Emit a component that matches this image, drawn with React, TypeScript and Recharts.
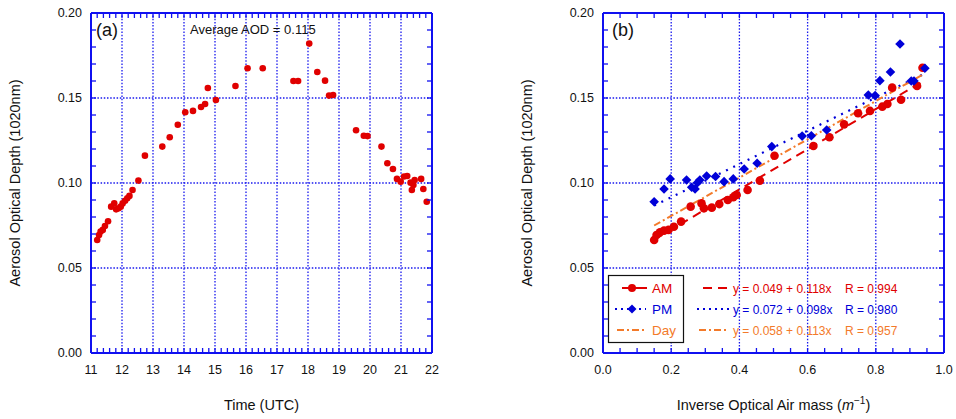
import React from "react";
import {
  ComposedChart,
  Scatter,
  Line,
  XAxis,
  YAxis,
  ReferenceLine,
  Legend,
} from "recharts";

// panel (a): AOD vs time of day
const timeUtc = [
  11.2, 11.26, 11.31, 11.38, 11.45, 11.55, 11.65, 11.75, 11.81, 11.89, 11.96,
  12.02, 12.1, 12.17, 12.24, 12.34, 12.53, 12.74, 13.3, 13.54, 13.8, 14.04,
  14.29, 14.55, 14.68, 14.77, 15.03, 15.66, 16.05, 16.54, 17.53, 17.68, 18.04,
  18.3, 18.55, 18.68, 18.81, 19.55, 19.8, 19.92, 20.37, 20.56, 20.74, 20.87,
  20.99, 21.1, 21.2, 21.31, 21.35, 21.4, 21.44, 21.65, 21.72, 21.83,
];
const aodTime = [
  0.0665, 0.0694, 0.0714, 0.0724, 0.0747, 0.0775, 0.0861, 0.088, 0.0845,
  0.0851, 0.0861, 0.088, 0.0896, 0.091, 0.0924, 0.0959, 0.1014, 0.1161, 0.1214,
  0.1269, 0.1343, 0.1416, 0.1424, 0.1447, 0.1465, 0.1559, 0.1488, 0.1571,
  0.1675, 0.1675, 0.16, 0.16, 0.182, 0.1653, 0.1602, 0.1514, 0.1518, 0.131,
  0.1278, 0.1276, 0.1214, 0.1116, 0.1082, 0.1024, 0.1008, 0.1038, 0.1041,
  0.1002, 0.0959, 0.0988, 0.1018, 0.1024, 0.0965, 0.089,
];

// panel (b): AOD vs inverse air mass
const amMass = [
  0.15, 0.157, 0.167, 0.179, 0.192, 0.208, 0.229, 0.257, 0.289, 0.296, 0.319,
  0.341, 0.366, 0.382, 0.392, 0.424, 0.46, 0.503, 0.617, 0.664, 0.707, 0.748,
  0.783, 0.819, 0.834, 0.848, 0.874, 0.921, 0.937,
];
const amAod = [
  0.0665, 0.0694, 0.071, 0.072, 0.0724, 0.0743, 0.0773, 0.0861, 0.088, 0.0851,
  0.0855, 0.0876, 0.09, 0.0916, 0.0929, 0.0959, 0.1014, 0.116, 0.1218, 0.1269,
  0.1345, 0.141, 0.1424, 0.1449, 0.1465, 0.1561, 0.149, 0.1571, 0.1678,
];
const pmMass = [
  0.15, 0.179, 0.197, 0.245, 0.26, 0.27, 0.277, 0.284, 0.304, 0.33, 0.355,
  0.382, 0.414, 0.452, 0.495, 0.584, 0.611, 0.656, 0.778, 0.798, 0.812, 0.843,
  0.871, 0.904, 0.912, 0.944,
];
const pmAod = [
  0.089, 0.0965, 0.1024, 0.1018, 0.0975, 0.0965, 0.1002, 0.1018, 0.1041,
  0.1038, 0.1008, 0.1024, 0.1082, 0.1116, 0.1214, 0.1276, 0.1278, 0.1312,
  0.1518, 0.1514, 0.1602, 0.1653, 0.1818, 0.16, 0.16, 0.1675,
];

// fitted lines, end points
const fitMass = [0.15, 0.94];
const amFitAod = [0.0667, 0.16];
const pmFitAod = [0.0867, 0.164];
const dayFitAod = [0.075, 0.164];

const fitLabels = [
  { eq: "y = 0.049 + 0.118x", r: "R = 0.994" },
  { eq: "y = 0.072 + 0.098x", r: "R = 0.980" },
  { eq: "y = 0.058 + 0.113x", r: "R = 0.957" },
];

const timeTicks = [11, 12, 13, 14, 15, 16, 17, 18, 19, 20, 21, 22];
const massTicks = [0, 0.2, 0.4, 0.6, 0.8, 1.0];
const aodTicks = [0, 0.05, 0.1, 0.15, 0.2];

const minor = (from: number, to: number, step: number) => {
  const out: number[] = [];
  for (let v = from; v <= to + step / 2; v += step) out.push(+v.toFixed(4));
  return out;
};
const timeMinor = minor(11, 22, 0.2);
const massMinor = minor(0, 1, 0.05);
const aodMinor = minor(0, 0.2, 0.01);

const toPts = (xs: number[], ys: number[]) => xs.map((x, i) => ({ x, y: ys[i] }));

const FRAME = "#1010f0";
const GRID = "#1818ee";
const RED = "#e00000";
const BLUE = "#0000d8";
const ORANGE = "#f37a2a";
const FONT = "'Liberation Sans', Arial, sans-serif";

const isMajor = (v: number, majors: number[]) => majors.some((m) => Math.abs(m - v) < 1e-6);

const makeTick =
  (side: "bottom" | "top" | "left" | "right", majors: number[], fmt?: (v: number) => string) =>
  (p: any) => {
    const { x, y, payload } = p;
    const v = payload.value;
    const len = 5;
    let line;
    if (side === "bottom") line = <line x1={x} x2={x} y1={y} y2={y - len} />;
    else if (side === "top") line = <line x1={x} x2={x} y1={y} y2={y + len} />;
    else if (side === "left") line = <line x1={x} x2={x + len} y1={y} y2={y} />;
    else line = <line x1={x} x2={x - len} y1={y} y2={y} />;
    return (
      <g>
        <g stroke={FRAME} strokeWidth={1.3}>{line}</g>
        {fmt && isMajor(v, majors) && side === "bottom" && (
          <text x={x} y={y + 21} textAnchor="middle" fontSize={12.5} fill="#111" fontFamily={FONT}>
            {fmt(v)}
          </text>
        )}
        {fmt && isMajor(v, majors) && side === "left" && (
          <text x={x - 9} y={y + 4} textAnchor="end" fontSize={12.5} fill="#111" fontFamily={FONT}>
            {fmt(v)}
          </text>
        )}
      </g>
    );
  };

const XTitle = (props: any) => {
  const vb = props.viewBox || {};
  return (
    <text x={vb.x + vb.width / 2} y={vb.y + 57} textAnchor="middle" fontSize={14.5} fill="#111" fontFamily={FONT}>
      {props.children}
    </text>
  );
};

const YTitle = (props: any) => {
  const vb = props.viewBox || {};
  const cx = vb.x - 70;
  const cy = vb.y + vb.height / 2;
  return (
    <text x={cx} y={cy} transform={`rotate(-90 ${cx} ${cy})`} textAnchor="middle" fontSize={14.5} fill="#111" fontFamily={FONT}>
      Aerosol Optical Depth (1020nm)
    </text>
  );
};

const Circle = (r: number) => (p: any) => <circle cx={p.cx} cy={p.cy} r={r} fill={RED} />;
const Diamond = (p: any) => {
  const s = 4.8;
  return (
    <polygon
      points={`${p.cx},${p.cy - s} ${p.cx + s},${p.cy} ${p.cx},${p.cy + s} ${p.cx - s},${p.cy}`}
      fill={BLUE}
    />
  );
};

const axisLine = { stroke: FRAME, strokeWidth: 2 };

function Panels() {
  const W1 = 460;
  const W2 = 476;
  const H = 419;
  const panelA = toPts(timeUtc, aodTime);
  const amPts = toPts(amMass, amAod);
  const pmPts = toPts(pmMass, pmAod);
  const amFit = toPts(fitMass, amFitAod);
  const pmFit = toPts(fitMass, pmFitAod);
  const dayFit = toPts(fitMass, dayFitAod);

  // axes are 1px thick so they still render; margins account for that
  const yAxes = (
    <>
      <YAxis
        yAxisId="l"
        dataKey="y"
        type="number"
        domain={[0, 0.2]}
        ticks={aodMinor}
        interval={0}
        width={1}
        tickSize={0}
        tickMargin={0}
        tickLine={false}
        axisLine={axisLine}
        allowDataOverflow
        tick={makeTick("left", aodTicks, (v) => v.toFixed(2))}
        label={<YTitle />}
      />
      <YAxis
        yAxisId="r"
        orientation="right"
        dataKey="y"
        type="number"
        domain={[0, 0.2]}
        ticks={aodMinor}
        interval={0}
        width={1}
        tickSize={0}
        tickMargin={0}
        tickLine={false}
        axisLine={axisLine}
        allowDataOverflow
        tick={makeTick("right", aodTicks)}
      />
    </>
  );

  const xAxes = (ticks: number[], minorTicks: number[], domain: [number, number], fmt: (v: number) => string, title: React.ReactNode) => (
    <>
      <XAxis
        xAxisId="b"
        dataKey="x"
        type="number"
        domain={domain}
        ticks={minorTicks}
        interval={0}
        height={1}
        tickSize={0}
        tickMargin={0}
        tickLine={false}
        axisLine={axisLine}
        allowDataOverflow
        tick={makeTick("bottom", ticks, fmt)}
        label={<XTitle>{title}</XTitle>}
      />
      <XAxis
        xAxisId="t"
        orientation="top"
        dataKey="x"
        type="number"
        domain={domain}
        ticks={minorTicks}
        interval={0}
        height={1}
        tickSize={0}
        tickMargin={0}
        tickLine={false}
        axisLine={axisLine}
        allowDataOverflow
        tick={makeTick("top", ticks)}
      />
    </>
  );

  const grid = (ticks: number[]) => (
    <>
      {ticks.slice(1, -1).map((v) => (
        <ReferenceLine key={"gx" + v} x={v} xAxisId="b" yAxisId="l" stroke={GRID} strokeWidth={1.3} strokeDasharray="1.5 1.7" />
      ))}
      {aodTicks.slice(1, -1).map((v) => (
        <ReferenceLine key={"gy" + v} y={v} xAxisId="b" yAxisId="l" stroke={GRID} strokeWidth={1.3} strokeDasharray="1.5 1.7" />
      ))}
    </>
  );

  const legendA = () => (
    <svg width={W1} height={H} style={{ pointerEvents: "none", display: "block" }}>
      <text x={96} y={36} fontSize={18} fill="#111" fontFamily={FONT}>(a)</text>
      <text x={190} y={34} fontSize={13} fill="#111" fontFamily={FONT}>Average AOD = 0.115</text>
    </svg>
  );

  const rowY = [288, 309, 330];
  const colors = [RED, BLUE, ORANGE];
  const legendB = () => (
    <svg width={W2} height={H} style={{ pointerEvents: "none", display: "block" }}>
      <text x={132} y={36} fontSize={18} fill="#111" fontFamily={FONT}>(b)</text>
      <rect x={128.5} y={275.5} width={75} height={67} fill="#fff" stroke="#111" strokeWidth={1.2} />
      {/* AM */}
      <line x1={142} x2={167} y1={rowY[0]} y2={rowY[0]} stroke={RED} strokeWidth={2} />
      <circle cx={152} cy={rowY[0]} r={4} fill={RED} />
      {/* PM */}
      <line x1={135} x2={166} y1={rowY[1]} y2={rowY[1]} stroke={BLUE} strokeWidth={2} strokeDasharray="2 4" />
      <polygon points={`152,${rowY[1] - 4.5} 156.5,${rowY[1]} 152,${rowY[1] + 4.5} 147.5,${rowY[1]}`} fill={BLUE} />
      {/* Day */}
      <line x1={137} x2={165} y1={rowY[2]} y2={rowY[2]} stroke={ORANGE} strokeWidth={2} strokeDasharray="7 3 2 3" />
      {["AM", "PM", "Day"].map((t, i) => (
        <text key={t} x={172} y={rowY[i] + 5} fontSize={13.5} fill={colors[i]} fontFamily={FONT}>{t}</text>
      ))}
      <line x1={223} x2={249} y1={rowY[0]} y2={rowY[0]} stroke={RED} strokeWidth={2} strokeDasharray="9 6" />
      <line x1={217} x2={250} y1={rowY[1]} y2={rowY[1]} stroke={BLUE} strokeWidth={2} strokeDasharray="2 4" />
      <line x1={219} x2={246} y1={rowY[2]} y2={rowY[2]} stroke={ORANGE} strokeWidth={2} strokeDasharray="7 3 2 3" />
      {fitLabels.map((f, i) => (
        <g key={i}>
          <text x={253} y={rowY[i] + 4.5} fontSize={12} fill={colors[i]} fontFamily={FONT}>{f.eq}</text>
          <text x={365} y={rowY[i] + 4.5} fontSize={12} fill={colors[i]} fontFamily={FONT}>{f.r}</text>
        </g>
      ))}
    </svg>
  );

  const massTitle = (
    <>
      Inverse Optical Air mass (<tspan fontStyle="italic">m</tspan>
      <tspan dy={-6} fontSize={10}>−1</tspan>
      <tspan dy={6}>)</tspan>
    </>
  );

  return (
    <div style={{ position: "absolute", left: 0, top: 0, width: 956, height: H, background: "#fff", fontFamily: FONT }}>
      <div style={{ position: "absolute", left: 0, top: 0 }}>
        <ComposedChart width={W1} height={H} margin={{ top: 12, right: W1 - 433, bottom: H - 354, left: 90 }}>
          {xAxes(timeTicks, timeMinor, [11, 22], (v) => String(v), "Time (UTC)")}
          {yAxes}
          {grid(timeTicks)}
          <Scatter data={panelA} xAxisId="b" yAxisId="l" fill={RED} shape={Circle(3.3)} isAnimationActive={false} />
          <Legend layout="horizontal" verticalAlign="middle" align="center" content={legendA} wrapperStyle={{ left: 0, top: 0, width: W1, height: H, pointerEvents: "none" }} />
        </ComposedChart>
      </div>
      <div style={{ position: "absolute", left: 480, top: 0 }}>
        <ComposedChart width={W2} height={H} margin={{ top: 12, right: W2 - (945 - 480), bottom: H - 354, left: 602 - 480 }}>
          {xAxes(massTicks, massMinor, [0, 1], (v) => v.toFixed(1), massTitle)}
          {yAxes}
          {grid(massTicks)}
          <Line data={amFit} dataKey="y" xAxisId="b" yAxisId="l" type="linear" stroke={RED} strokeWidth={2} strokeDasharray="9 6" dot={false} isAnimationActive={false} />
          <Line data={pmFit} dataKey="y" xAxisId="b" yAxisId="l" type="linear" stroke={BLUE} strokeWidth={2.2} strokeDasharray="2 6" dot={false} isAnimationActive={false} />
          <Line data={dayFit} dataKey="y" xAxisId="b" yAxisId="l" type="linear" stroke={ORANGE} strokeWidth={2} strokeDasharray="7 3 2 3" dot={false} isAnimationActive={false} />
          <Scatter data={amPts} xAxisId="b" yAxisId="l" fill={RED} shape={Circle(4.3)} isAnimationActive={false} />
          <Scatter data={pmPts} xAxisId="b" yAxisId="l" fill={BLUE} shape={Diamond} isAnimationActive={false} />
          <Legend layout="horizontal" verticalAlign="middle" align="center" content={legendB} wrapperStyle={{ left: 0, top: 0, width: W2, height: H, pointerEvents: "none" }} />
        </ComposedChart>
      </div>
    </div>
  );
}

export default function App() {
  return <Panels />;
}
